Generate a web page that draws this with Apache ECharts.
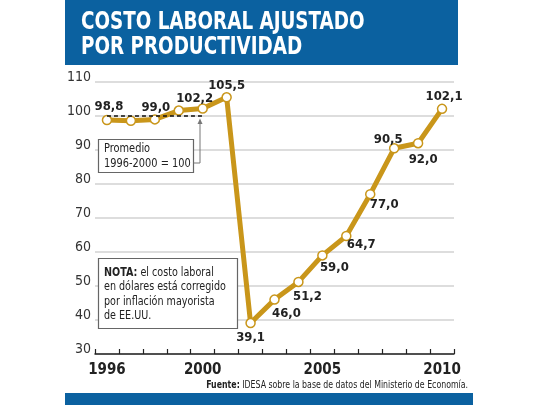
<!DOCTYPE html>
<html>
<head>
<meta charset="utf-8">
<script src="https://cdn.jsdelivr.net/npm/echarts@6/dist/echarts.min.js"></script>
<style>
html,body{margin:0;padding:0;background:#fff;}
#c{width:540px;height:405px;}
</style>
</head>
<body>
<div id="c"></div>
<script>
var years = ['1996','1997','1998','1999','2000','2001','2002','2003','2004','2005','2006','2007','2008','2009','2010'];
var values = [98.8, 98.6, 99.0, 101.6, 102.2, 105.5, 39.1, 46.0, 51.2, 59.0, 64.7, 77.0, 90.5, 92.0, 102.1];
var labeled = [true, false, true, false, true, true, true, true, true, true, true, true, true, true, true];
var shownYears = ['1996','2000','2005','2010'];
var yTicks = [30, 40, 50, 60, 70, 80, 90, 100, 110];
var averageValue = 100;
var averageFrom = '1996', averageTo = '2000';
var titleLines = ['COSTO LABORAL AJUSTADO', 'POR PRODUCTIVIDAD'];
var noteText = '{b|NOTA:} el costo laboral\nen dólares está corregido\npor inflación mayorista\nde EE.UU.';
var avgText = 'Promedio\n1996-2000 = 100';
var sourceText = '{b|Fuente:} IDESA sobre la base de datos del Ministerio de Economía.';

// label offsets (style only)
var labelOffsets = [[2,-13],[0,0],[1,-12],[0,0],[-8,-10],[0,-12],[0,15],[12,14],[9,15],[12,12],[15,9],[14,10],[-6,-9],[5,16],[2,-12]];

var FONT = '"DejaVu Sans Condensed","Liberation Sans Narrow",sans-serif';
var BLUE = '#0b61a0';
var GOLD = '#c9961a';

var seriesData = values.map(function (v, i) {
  return {
    value: v,
    label: labeled[i] ? {
      show: true, position: 'inside', offset: labelOffsets[i],
      formatter: function (p) { return p.value.toFixed(1).replace('.', ','); }
    } : { show: false }
  };
});

var chart = echarts.init(document.getElementById('c'), null, { renderer: 'canvas' });
chart.setOption({
  animation: false,
  backgroundColor: '#fff',
  textStyle: { fontFamily: FONT },
  grid: { left: 95, right: 86, top: 82, bottom: 51, containLabel: false },
  xAxis: {
    type: 'category', data: years, boundaryGap: true,
    axisLine: { show: true, lineStyle: { color: '#222', width: 1.5 } },
    axisTick: { show: true, inside: true, length: 5, lineStyle: { color: '#222', width: 1.2 } },
    axisLabel: {
      interval: 0, margin: 9,
      formatter: function (v) { return shownYears.indexOf(v) >= 0 ? v : ''; },
      color: '#222', fontWeight: 'bold', fontSize: 15, fontFamily: FONT
    },
    splitLine: { show: false }
  },
  yAxis: {
    type: 'value', min: yTicks[0], max: yTicks[yTicks.length - 1], interval: 10,
    axisLine: { show: false }, axisTick: { show: false },
    axisLabel: { color: '#333', fontSize: 14, fontFamily: FONT, margin: 4, verticalAlign: 'bottom', lineHeight: 9 },
    splitLine: { show: true, lineStyle: { color: '#d2d2d2', width: 1.5 } }
  },
  series: [{
    type: 'line', data: seriesData,
    lineStyle: { color: GOLD, width: 5 },
    itemStyle: { color: '#fff', borderColor: GOLD, borderWidth: 1.5 },
    symbol: 'circle', symbolSize: 9, showAllSymbol: true,
    label: { color: '#222', fontWeight: 'bold', fontSize: 13, fontFamily: FONT },
    z: 3,
    markLine: {
      silent: true, symbol: 'none', z: 5,
      lineStyle: { color: '#111', type: [4, 3], width: 1.5 },
      label: { show: false },
      data: [[{ coord: [averageFrom, averageValue] }, { coord: [averageTo, averageValue] }]]
    }
  }],
  graphic: [
    { type: 'rect', z: -1, shape: { x: 65, y: 0, width: 393, height: 65 }, style: { fill: BLUE } },
    {
      type: 'text', z: 10, x: 81, y: 22, scaleX: 0.815,
      style: { text: titleLines[0], fill: '#fff', fontSize: 25, fontWeight: 'bold', fontFamily: FONT, align: 'left', verticalAlign: 'middle' }
    },
    {
      type: 'text', z: 10, x: 81, y: 47, scaleX: 0.815,
      style: { text: titleLines[1], fill: '#fff', fontSize: 25, fontWeight: 'bold', fontFamily: FONT, align: 'left', verticalAlign: 'middle' }
    },
    { type: 'rect', z: 10, shape: { x: 65, y: 393, width: 408, height: 12 }, style: { fill: BLUE } },
    {
      type: 'text', z: 10, x: 468, y: 385, scaleX: 0.87,
      style: {
        text: sourceText, fill: '#222', fontSize: 10, fontFamily: FONT, align: 'right', verticalAlign: 'middle',
        rich: { b: { fontWeight: 'bold', fontSize: 10, fontFamily: FONT, fill: '#222' } }
      }
    },
    { type: 'rect', z: 10, shape: { x: 98.5, y: 139.5, width: 95, height: 33 }, style: { fill: '#fff', stroke: '#666', lineWidth: 1.2 } },
    {
      type: 'text', z: 11, x: 104, y: 156, scaleX: 0.84,
      style: { text: avgText, fill: '#222', fontSize: 13, lineHeight: 15, fontFamily: FONT, align: 'left', verticalAlign: 'middle' }
    },
    { type: 'polyline', z: 10, shape: { points: [[193.5, 163], [200, 163], [200, 121]] }, style: { stroke: '#777', lineWidth: 1, fill: null } },
    { type: 'polygon', z: 10, shape: { points: [[197.5, 124], [202.5, 124], [200, 118.5]] }, style: { fill: '#777' } },
    { type: 'rect', z: 10, shape: { x: 98.5, y: 258.5, width: 139, height: 70 }, style: { fill: '#fff', stroke: '#666', lineWidth: 1.2 } },
    {
      type: 'text', z: 11, x: 104, y: 294, scaleX: 0.82,
      style: {
        text: noteText, fill: '#222', fontSize: 13, lineHeight: 14.3, fontFamily: FONT, align: 'left', verticalAlign: 'middle',
        rich: { b: { fontWeight: 'bold', fontSize: 13, lineHeight: 14.3, fontFamily: FONT, fill: '#222' } }
      }
    }
  ]
});
</script>
</body>
</html>
